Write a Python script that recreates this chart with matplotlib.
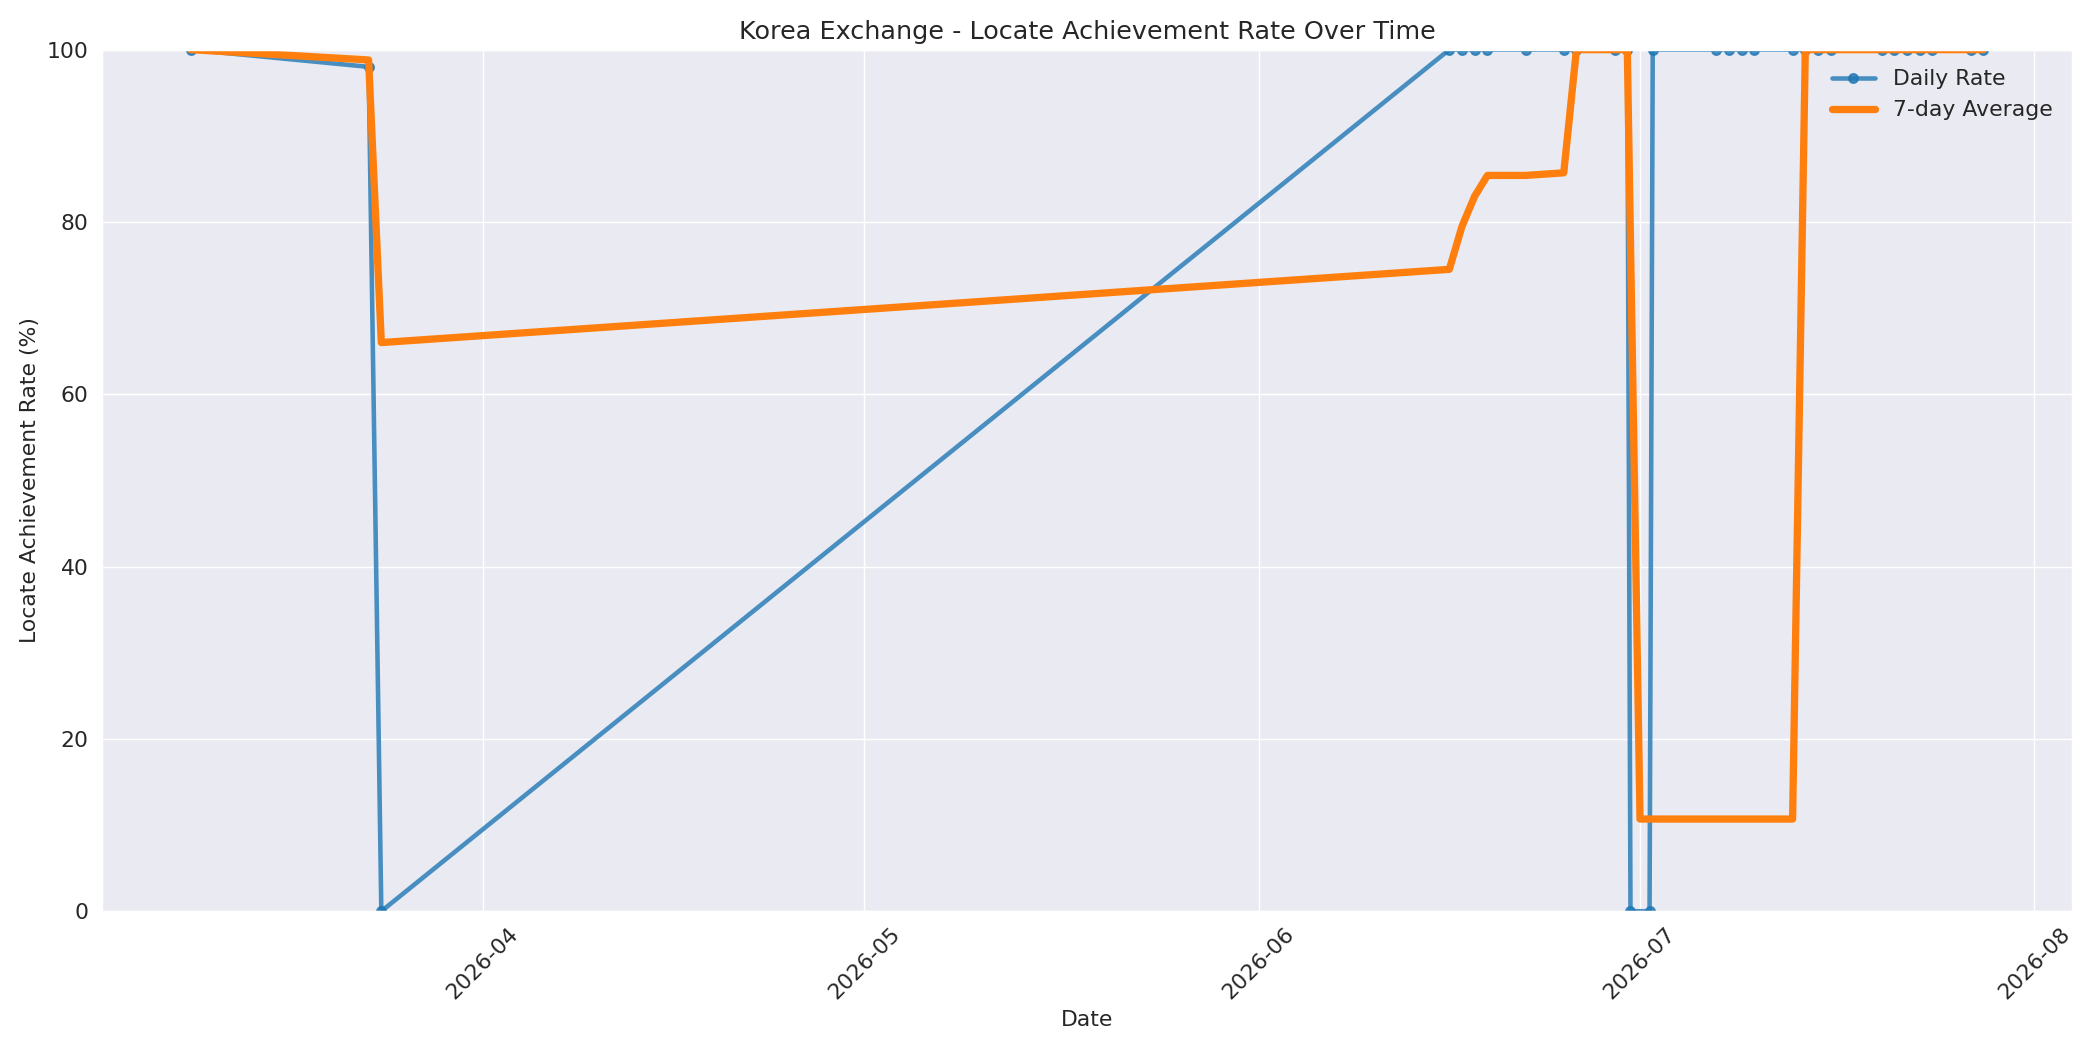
import matplotlib
matplotlib.use("Agg")
import matplotlib.pyplot as plt
import matplotlib.dates as mdates
import pandas as pd
import seaborn as sns

sns.set_style("darkgrid")
plt.rcParams['font.family'] = ['DejaVu Sans']

daily_dates = ["2026-03-09 00:00", "2026-03-23 00:00", "2026-03-24 00:00", "2026-06-16 00:00",
               "2026-06-17 00:00", "2026-06-18 00:00", "2026-06-19 00:00", "2026-06-22 00:00",
               "2026-06-25 00:00", "2026-06-26 00:00", "2026-06-29 00:00", "2026-06-30 00:00",
               "2026-06-30 06:00", "2026-07-01 18:00", "2026-07-02 00:00", "2026-07-07 00:00",
               "2026-07-08 00:00", "2026-07-09 00:00", "2026-07-10 00:00", "2026-07-13 00:00",
               "2026-07-14 00:00", "2026-07-15 00:00", "2026-07-16 00:00", "2026-07-20 00:00",
               "2026-07-21 00:00", "2026-07-22 00:00", "2026-07-23 00:00", "2026-07-24 00:00",
               "2026-07-27 00:00", "2026-07-28 00:00"]
daily_rate = [100, 98, 0, 100, 100, 100, 100, 100, 100, 100, 100, 100,
              0, 0, 100, 100, 100, 100, 100, 100, 100, 100, 100, 100,
              100, 100, 100, 100, 100, 100]

avg_dates = ["2026-03-09", "2026-03-23", "2026-03-24", "2026-06-16", "2026-06-17", "2026-06-18",
             "2026-06-19", "2026-06-22", "2026-06-25", "2026-06-26", "2026-06-29", "2026-06-30",
             "2026-07-01", "2026-07-02", "2026-07-07", "2026-07-13", "2026-07-14", "2026-07-20",
             "2026-07-28"]
avg_rate = [100, 98.8, 66, 74.5, 79.5, 83, 85.4, 85.4, 85.7, 100, 100, 100,
            10.7, 10.7, 10.7, 10.7, 100, 100, 100]

dd = pd.to_datetime(daily_dates, format="%Y-%m-%d %H:%M")
ad = pd.to_datetime(avg_dates, format="%Y-%m-%d")

fig, ax = plt.subplots(figsize=(16, 8), dpi=131.25)
ax.plot(dd, daily_rate, marker='o', markersize=5, linewidth=2.5, alpha=0.8,
        color='#1f77b4', label='Daily Rate')
ax.plot(ad, avg_rate, linewidth=4, color='#ff7f0e', label='7-day Average')
ax.set_ylim(0, 100)
ax.set_xlim(pd.Timestamp("2026-03-02"), pd.Timestamp("2026-08-04"))
ax.xaxis.set_major_locator(mdates.MonthLocator())
ax.xaxis.set_major_formatter(mdates.DateFormatter('%Y-%m'))
plt.setp(ax.get_xticklabels(), rotation=45)
ax.tick_params(labelsize=12)
ax.set_title('Korea Exchange - Locate Achievement Rate Over Time', fontsize=14)
ax.set_xlabel('Date', fontsize=12)
ax.set_ylabel('Locate Achievement Rate (%)', fontsize=12)
ax.legend(fontsize=12, frameon=False, loc='upper right')
fig.tight_layout()
fig.savefig('out.png')
